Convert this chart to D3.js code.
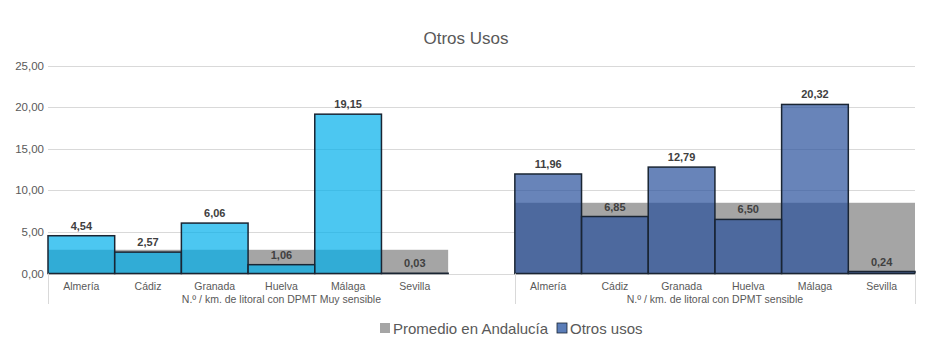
<!DOCTYPE html>
<html><head><meta charset="utf-8">
<script src="https://cdn.jsdelivr.net/npm/d3@7"></script>
<style>body{margin:0;background:#fff}svg{display:block;font-family:"Liberation Sans",Arial,sans-serif}</style>
</head><body><svg id="c" width="936" height="349"></svg>
<script>
const categories = ["Almería","Cádiz","Granada","Huelva","Málaga","Sevilla"];
const groups = ["N.º / km. de litoral con DPMT Muy sensible","N.º / km. de litoral con DPMT sensible"];
const muySensible = [4.54,2.57,6.06,1.06,19.15,0.03];
const sensible = [11.96,6.85,12.79,6.50,20.32,0.24];
const promedio = [2.85,8.5];
const yTicks = [0,5,10,15,20,25];
const seriesNames = ["Promedio en Andalucía","Otros usos"];

const svg = d3.select("#c");
const keys = [];
categories.forEach(c=>keys.push("0|"+c));
keys.push("gap");
categories.forEach(c=>keys.push("1|"+c));
const x = d3.scaleBand().domain(keys).range([48,915]).padding(0);
const y = d3.scaleLinear().domain([0,25]).range([273.5,65.5]);
const fmt = v => d3.format(".2f")(v).replace(".",",");

// title
svg.append("text").attr("x",466).attr("y",44).attr("text-anchor","middle")
  .attr("font-size",17).attr("fill","#595959").text("Otros Usos");

// grid
svg.append("g").selectAll("line").data(yTicks).join("line")
  .attr("x1",48).attr("x2",915).attr("y1",d=>Math.round(y(d))+0.5).attr("y2",d=>Math.round(y(d))+0.5)
  .attr("stroke","#D9D9D9").attr("stroke-width",1);
svg.append("g").selectAll("text").data(yTicks).join("text")
  .attr("x",44).attr("y",d=>y(d)+4).attr("text-anchor","end")
  .attr("font-size",11.5).attr("fill","#595959").text(fmt);

// average (gray) blocks
const gData = promedio.map((v,i)=>({v,i}));
svg.append("g").selectAll("rect").data(gData).join("rect")
  .attr("x",d=>x(d.i+"|"+categories[0]))
  .attr("width",d=>x(d.i+"|"+categories[5])+x.bandwidth()-x(d.i+"|"+categories[0]))
  .attr("y",d=>y(d.v)).attr("height",d=>y(0)-y(d.v))
  .attr("fill","#A5A5A5");

// bars
const fills = ["rgb(0,175,235)","rgb(40,80,155)"];
const bars = [];
[muySensible,sensible].forEach((arr,gi)=>arr.forEach((v,ci)=>bars.push({g:gi,c:categories[ci],v})));
svg.append("g").selectAll("rect").data(bars).join("rect")
  .attr("x",d=>x(d.g+"|"+d.c)).attr("width",x.bandwidth())
  .attr("y",d=>y(d.v)).attr("height",d=>y(0)-y(d.v))
  .attr("fill",d=>fills[d.g]).attr("fill-opacity",0.7)
  .attr("stroke","#1a2533").attr("stroke-width",1.5);

// value labels
svg.append("g").selectAll("text").data(bars).join("text")
  .attr("x",d=>x(d.g+"|"+d.c)+x.bandwidth()/2).attr("y",d=>y(d.v)-6)
  .attr("text-anchor","middle").attr("font-size",11).attr("font-weight","bold")
  .attr("fill","#404040").text(d=>fmt(d.v));

// category labels
svg.append("g").selectAll("text").data(bars).join("text")
  .attr("x",d=>x(d.g+"|"+d.c)+x.bandwidth()/2).attr("y",290)
  .attr("text-anchor","middle").attr("font-size",10.5).attr("fill","#595959").text(d=>d.c);

// group separators
const seps = [x(keys[0]), x("1|"+categories[0]), x.range()[1]];
svg.append("g").selectAll("line").data(seps).join("line")
  .attr("x1",d=>Math.round(d)+0.5).attr("x2",d=>Math.round(d)+0.5).attr("y1",273.5).attr("y2",304)
  .attr("stroke","#D9D9D9");
svg.append("g").selectAll("text").data(groups).join("text")
  .attr("x",(d,i)=>(seps[i]+seps[i+1])/2).attr("y",303)
  .attr("text-anchor","middle").attr("font-size",10.5).attr("fill","#595959").text(d=>d);

// legend
const leg = svg.append("g");
const legX = [380,557];
const legFill = ["#A5A5A5","#5B7DB8"];
seriesNames.forEach((n,i)=>{
  leg.append("rect").attr("x",legX[i]).attr("y",323).attr("width",10).attr("height",10)
    .attr("fill",legFill[i]).attr("stroke",i?"#1a2533":"none").attr("stroke-width",i?0.8:0);
  leg.append("text").attr("x",legX[i]+13).attr("y",334).attr("font-size",15).attr("fill","#595959").text(n);
});
</script></body></html>
